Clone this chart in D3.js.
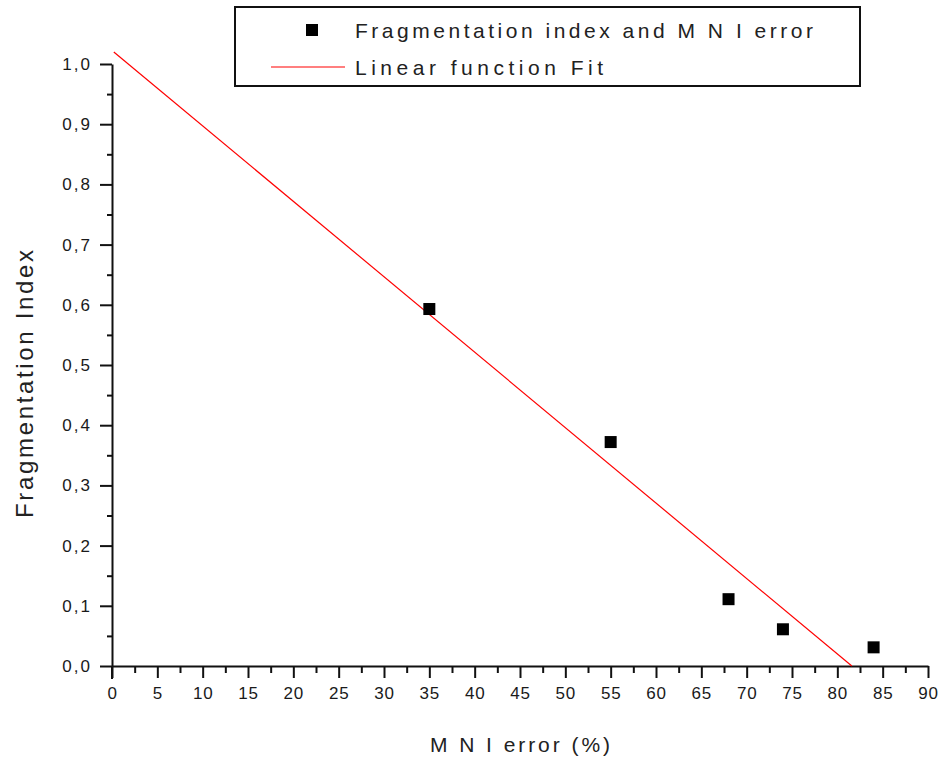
<!DOCTYPE html>
<html>
<head>
<meta charset="utf-8">
<title>Fragmentation Index vs MNI error</title>
<script src="https://d3js.org/d3.v7.min.js"></script>
<style>
    body { margin: 0; background: #fff; }
    svg { display: block; font-family: "Liberation Sans", Arial, sans-serif; }
    .axis path, .axis line { stroke: #111; }
    .axis text { fill: #1a1a1a; font-size: 17px; font-family: "Liberation Sans", Arial, sans-serif; }
</style>
</head>
<body>
<div id="chart"></div>
<script>
// data
const mniError = [35, 55, 68, 74, 84]
const fragIndex = [0.593, 0.372, 0.111, 0.061, 0.031]
// linear fit end points
const fitX = [0.2, 81.6]
const fitY = [1.02, 0]
// ticks
const xMajor = [0, 5, 10, 15, 20, 25, 30, 35, 40, 45, 50, 55, 60, 65, 70, 75, 80, 85, 90]
const yMajor = [0, 0.1, 0.2, 0.3, 0.4, 0.5, 0.6, 0.7, 0.8, 0.9, 1.0]

const w = 941, h = 760
const margin = { top: 64, right: 13, bottom: 94, left: 112 }

const svg = d3.select("#chart").append("svg")
    .attr("width", w)
    .attr("height", h)

const x = d3.scaleLinear().domain([0, 90]).range([margin.left, w - margin.right])
const y = d3.scaleLinear().domain([0, 1]).range([h - margin.bottom, margin.top])

const xMinor = d3.range(2.5, 90, 5)
const yMinor = d3.range(0.05, 1, 0.1)

const commaFmt = d => d3.format(".1f")(d).replace(".", ",")

// x axis
svg.append("g")
    .attr("class", "axis")
    .attr("transform", "translate(0," + y(0) + ")")
    .call(d3.axisBottom(x).tickValues(xMinor).tickSize(7).tickFormat(""))
    .call(g => g.select(".domain").remove())
    .selectAll("line").attr("stroke-width", 2)

const gx = svg.append("g")
    .attr("class", "axis")
    .attr("transform", "translate(0," + y(0) + ")")
    .call(d3.axisBottom(x).tickValues(xMajor).tickSize(12).tickSizeOuter(0).tickPadding(9).tickFormat(d3.format("d")))
gx.select(".domain").attr("stroke-width", 2)
gx.selectAll("line").attr("stroke-width", 2)
gx.selectAll("text").attr("letter-spacing", 0.8)

// y axis
svg.append("g")
    .attr("class", "axis")
    .attr("transform", "translate(" + x(0) + ",0)")
    .call(d3.axisLeft(y).tickValues(yMinor).tickSize(5).tickFormat(""))
    .call(g => g.select(".domain").remove())
    .selectAll("line").attr("stroke-width", 2)

const gy = svg.append("g")
    .attr("class", "axis")
    .attr("transform", "translate(" + x(0) + ",0)")
    .call(d3.axisLeft(y).tickValues(yMajor).tickSize(12).tickSizeOuter(0).tickPadding(8).tickFormat(commaFmt))
gy.select(".domain").attr("stroke-width", 2)
gy.selectAll("line").attr("stroke-width", 2)
gy.selectAll("text").attr("letter-spacing", 2)

// y axis runs a little below the x axis
svg.append("line")
    .attr("x1", x(0)).attr("x2", x(0))
    .attr("y1", y(0)).attr("y2", y(0) + 13)
    .attr("stroke", "#111").attr("stroke-width", 2)

// axis titles
svg.append("text")
    .attr("x", 430)
    .attr("y", 752)
    .attr("font-size", 21)
    .attr("textLength", 180)
    .attr("lengthAdjust", "spacing")
    .attr("fill", "#222")
    .text("M N I error (%)")

svg.append("text")
    .attr("transform", "translate(33,518) rotate(-90)")
    .attr("font-size", 24)
    .attr("textLength", 268)
    .attr("lengthAdjust", "spacing")
    .attr("fill", "#222")
    .text("Fragmentation Index")

// fit line
const fitData = fitX.map((d, i) => [d, fitY[i]])
svg.append("path")
    .datum(fitData)
    .attr("fill", "none")
    .attr("stroke", "#ff0000")
    .attr("stroke-width", 1.2)
    .attr("d", d3.line().x(d => x(d[0])).y(d => y(d[1])))

// points
const pts = mniError.map((d, i) => ({ mni: d, frag: fragIndex[i] }))
const sq = 12
svg.selectAll("rect.pt")
    .data(pts)
    .enter()
    .append("rect")
    .attr("class", "pt")
    .attr("x", d => x(d.mni) - sq / 2)
    .attr("y", d => y(d.frag) - sq / 2)
    .attr("width", sq)
    .attr("height", sq)
    .attr("fill", "#000")

// legend
const lg = svg.append("g")
lg.append("rect")
    .attr("x", 235).attr("y", 7)
    .attr("width", 625).attr("height", 79)
    .attr("fill", "#fff")
    .attr("stroke", "#111")
    .attr("stroke-width", 2)

lg.append("rect")
    .attr("x", 306).attr("y", 24)
    .attr("width", 12).attr("height", 12)
    .attr("fill", "#000")

lg.append("line")
    .attr("x1", 271).attr("x2", 345)
    .attr("y1", 67).attr("y2", 67)
    .attr("stroke", "#ff0000")
    .attr("stroke-width", 1.2)

lg.append("text")
    .attr("x", 355).attr("y", 38)
    .attr("font-size", 21)
    .attr("textLength", 458)
    .attr("lengthAdjust", "spacing")
    .attr("fill", "#222")
    .text("Fragmentation index and M N I error")

lg.append("text")
    .attr("x", 355).attr("y", 75)
    .attr("font-size", 21)
    .attr("textLength", 248)
    .attr("lengthAdjust", "spacing")
    .attr("fill", "#222")
    .text("Linear function Fit")
</script>
</body>
</html>
